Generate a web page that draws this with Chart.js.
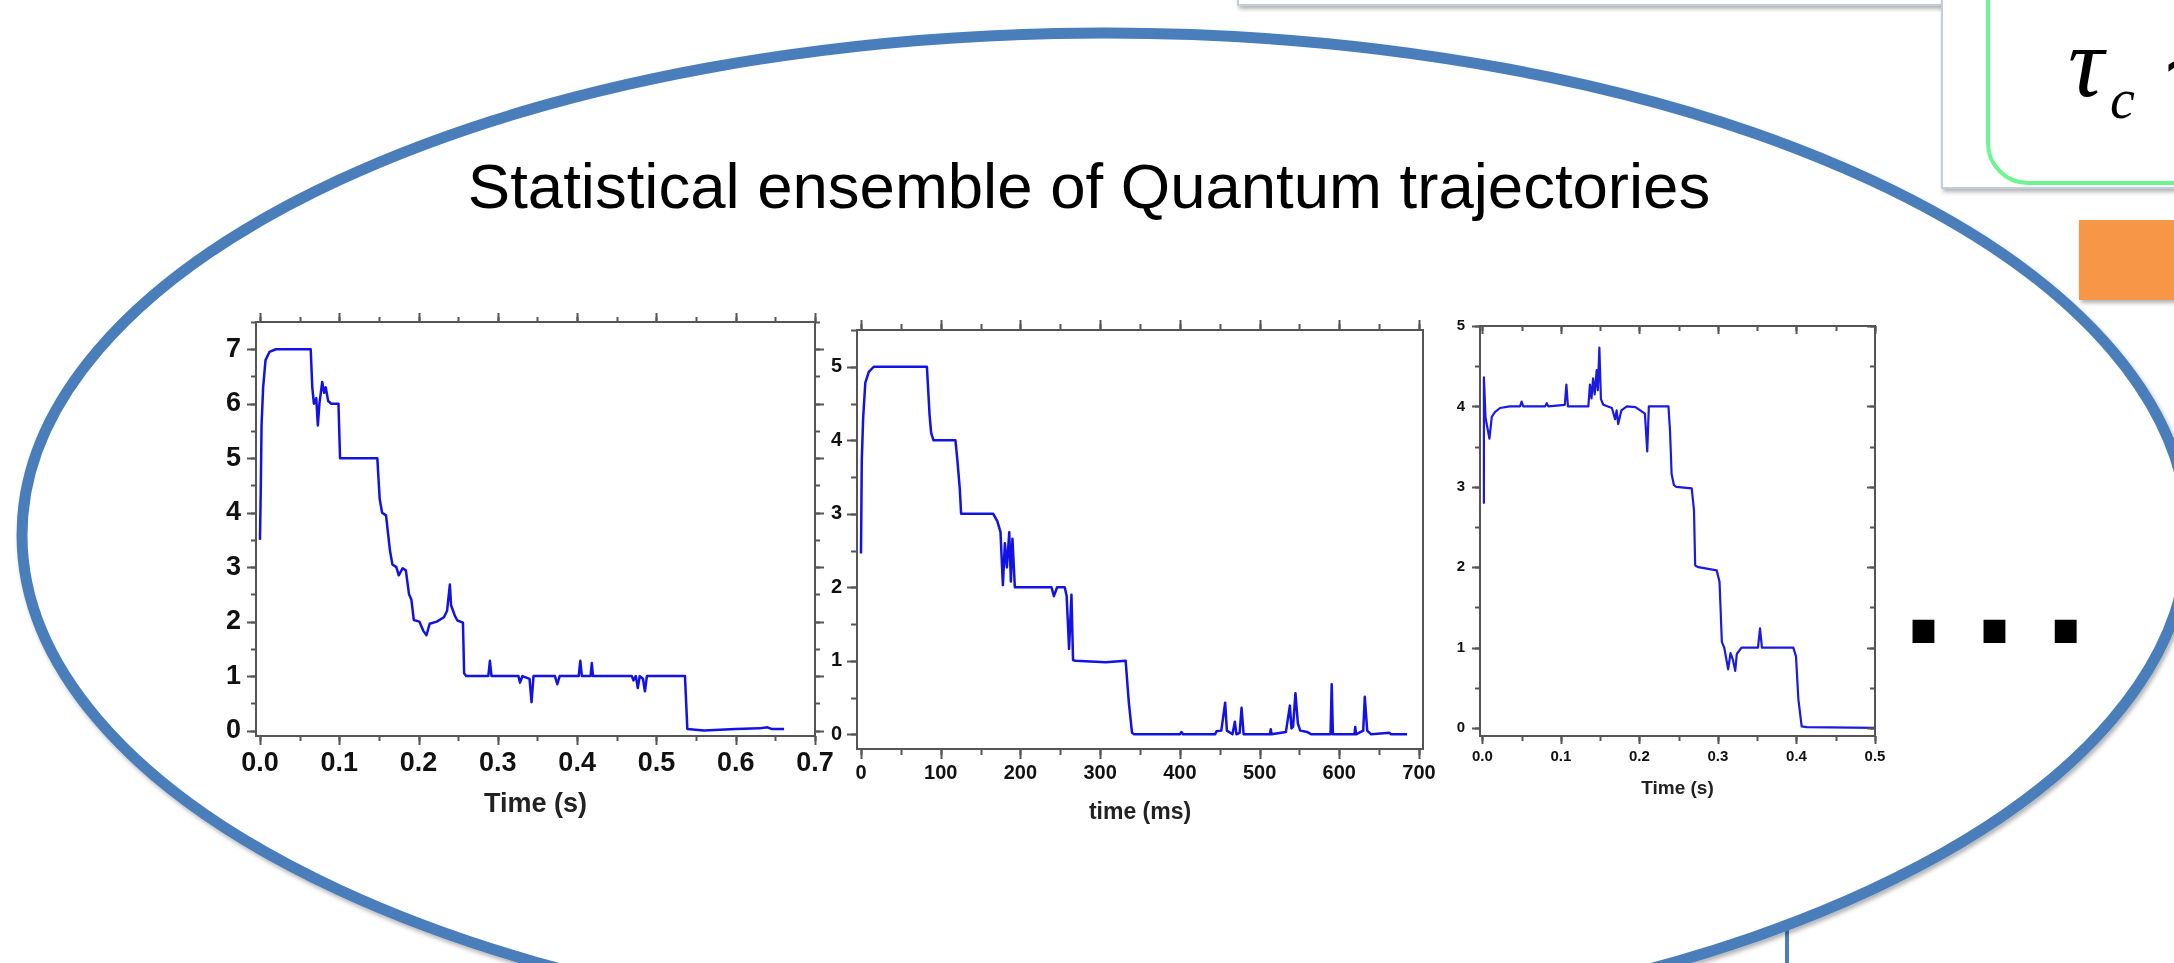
<!DOCTYPE html>
<html><head><meta charset="utf-8">
<script src="https://cdn.jsdelivr.net/npm/chart.js@4.4.0/dist/chart.umd.min.js"></script>
<style>
html,body{margin:0;padding:0;background:#fff;}
#stage{position:relative;width:2174px;height:963px;overflow:hidden;background:#fff;}
#deco{position:absolute;left:0;top:0;}
canvas{position:absolute;}
</style></head><body>
<div id="stage">
<svg id="deco" width="2174" height="963" xmlns="http://www.w3.org/2000/svg">
 <defs>
  <filter id="sh" x="-10%" y="-10%" width="120%" height="130%"><feDropShadow dx="2" dy="3" stdDeviation="2" flood-color="#000" flood-opacity="0.3"/></filter>
 </defs>
 <rect x="1238" y="-30" width="704" height="35" fill="#fff" stroke="#c3cedd" stroke-width="2" filter="url(#sh)"/>
 <rect x="1942" y="-30" width="300" height="218" fill="#fff" stroke="#c3cedd" stroke-width="2" filter="url(#sh)"/>
 <rect x="1988" y="-60" width="300" height="243" rx="40" fill="#fff" stroke="#6df591" stroke-width="4"/>
 <text x="2068" y="96" font-family="Liberation Serif, Times New Roman, serif" font-style="italic" font-size="100" fill="#000">τ</text>
 <text x="2110" y="118" font-family="Liberation Serif, Times New Roman, serif" font-style="italic" font-size="56" fill="#000">c</text>
 <text x="2160" y="90" font-family="Liberation Serif, Times New Roman, serif" font-size="80" fill="#000">∼</text>
 <rect x="2079" y="220" width="130" height="80" fill="#f79646" filter="url(#sh)"/>
 <line x1="1787" y1="880" x2="1787" y2="970" stroke="#4a7ebb" stroke-width="4"/>
 <ellipse cx="1105" cy="535" rx="1083" ry="502" fill="#fff" stroke="#4a7ebb" stroke-width="11" filter="url(#sh)"/>
 <text x="1089" y="208" text-anchor="middle" font-family="Liberation Sans, Arial, sans-serif" font-size="63.5" fill="#000">Statistical ensemble of Quantum trajectories</text>
 <text x="1902" y="643" font-family="Liberation Sans, Arial, sans-serif" font-weight="bold" font-size="155" letter-spacing="28" fill="#000">...</text>
</svg>
<canvas id="c1" width="680" height="541" style="left:170px;top:280px;width:680px;height:541px"></canvas>
<canvas id="c2" width="670" height="536" style="left:780px;top:290px;width:670px;height:536px"></canvas>
<canvas id="c3" width="480" height="510" style="left:1420px;top:290px;width:480px;height:510px"></canvas>
</div>
<script>
// ---------- Data: trajectory 1 (time in s, photon number) ----------
const t1 = [0.000,0.001,0.002,0.004,0.007,0.012,0.020,0.040,0.064,0.066,0.068,0.071,0.073,0.075,0.0785,0.081,0.083,0.086,0.090,0.099,
0.101,0.148,0.151,0.154,0.159,0.164,0.167,0.172,0.175,0.180,0.184,0.188,0.191,0.194,0.201,0.206,0.210,0.214,0.223,0.232,
0.236,0.2395,0.241,0.246,0.249,0.256,0.2575,0.260,0.288,0.290,0.292,0.326,0.328,0.331,0.340,0.3425,0.345,0.372,0.375,0.378,
0.402,0.404,0.406,0.417,0.4185,0.420,0.469,0.471,0.474,0.4765,0.479,0.483,0.4855,0.488,0.536,0.539,0.560,0.600,0.630,0.640,
0.645,0.661];
const n1 = [3.5,4.4,5.6,6.3,6.8,6.95,7.0,7.0,7.0,6.3,6.0,6.1,5.6,6.0,6.4,6.2,6.3,6.05,6.0,6.0,
5.0,5.0,4.25,4.0,3.95,3.3,3.05,3.0,2.85,2.98,2.94,2.5,2.4,2.03,2.0,1.83,1.75,1.96,2.0,2.08,
2.2,2.68,2.3,2.1,2.02,1.98,1.05,1.0,1.0,1.28,1.0,1.0,0.88,1.0,0.95,0.52,1.0,1.0,0.85,1.0,
1.0,1.28,1.0,1.0,1.24,1.0,1.0,0.92,1.0,0.78,1.0,0.95,0.72,1.0,1.0,0.03,0.0,0.03,0.04,0.06,
0.03,0.03];
// ---------- Data: trajectory 2 (time in ms) ----------
const t2 = [0,1,2.7,5.4,9.8,16,82.7,86,88,91,118.5,121,124,125.6,165.9,171,175,178,180.5,183,
186,188,190,193,239,242,246,255.6,258,261,264,266,269,307,332,336,340,342.6,400,402,
404,444,446,452,456.8,459,466,469,471,475,477.4,480,513,514,515,533,538,540,542,545,
548,551,560,565,589,590.5,592,619,620,621,630,632,635,640,663,665,685];
const n2 = [2.46,3.72,4.3,4.78,4.93,5.0,5.0,4.35,4.1,4.0,4.0,3.72,3.33,3.0,3.0,2.9,2.75,2.03,2.6,2.27,
2.75,2.08,2.66,2.0,2.0,1.88,2.0,2.0,1.88,1.16,1.9,1.01,1.0,0.98,1.0,0.43,0.02,0.0,0.0,0.03,
0.0,0.0,0.04,0.05,0.43,0.05,0.0,0.17,0.0,0.02,0.36,0.0,0.0,0.07,0.0,0.03,0.39,0.08,0.1,0.56,
0.15,0.05,0.03,0.0,0.0,0.68,0.0,0.0,0.1,0.0,0.05,0.51,0.05,0.0,0.02,0.0,0.0];
// ---------- Data: trajectory 3 (time in s) ----------
const t3 = [0.001,0.002,0.004,0.0055,0.009,0.012,0.016,0.0225,0.035,0.048,0.050,0.052,0.080,0.082,0.084,0.105,0.107,0.109,0.135,0.137,
0.139,0.141,0.143,0.1456,0.147,0.149,0.151,0.154,0.165,0.169,0.171,0.173,0.177,0.184,0.195,0.207,0.210,0.212,0.237,0.239,
0.241,0.244,0.247,0.2666,0.2695,0.271,0.275,0.2984,0.302,0.305,0.308,0.313,0.316,0.319,0.322,0.324,0.330,0.351,0.3536,0.356,
0.396,0.3994,0.4024,0.4066,0.413,0.500];
const n3 = [2.8,4.36,3.87,3.78,3.6,3.87,3.93,3.98,4.0,4.0,4.06,4.0,4.0,4.04,4.0,4.02,4.27,4.0,4.0,4.27,
4.1,4.35,4.15,4.45,4.2,4.73,4.09,4.02,3.98,3.84,3.95,3.78,3.95,4.0,3.99,3.91,3.44,4.0,4.0,3.69,
3.16,3.02,3.0,2.98,2.71,2.02,2.0,1.96,1.82,1.07,1.0,0.73,0.93,0.85,0.71,0.92,1.0,1.0,1.24,1.0,
1.0,0.89,0.36,0.02,0.01,0.0];
// ---------- Tick labels ----------
const xTicks1 = [0,0.1,0.2,0.3,0.4,0.5,0.6,0.7];
const xLabels1 = ['0.0','0.1','0.2','0.3','0.4','0.5','0.6','0.7'];
const yTicks1 = [0,1,2,3,4,5,6,7];
const xTicks2 = [0,100,200,300,400,500,600,700];
const xLabels2 = ['0','100','200','300','400','500','600','700'];
const yTicks2 = [0,1,2,3,4,5];
const xTicks3 = [0,0.1,0.2,0.3,0.4,0.5];
const xLabels3 = ['0.0','0.1','0.2','0.3','0.4','0.5'];
const yTicks3 = [0,1,2,3,4,5];
const titles = ['Time (s)','time (ms)','Time (s)'];

const FONT = 'Liberation Sans, Arial, sans-serif';

const frameTicks = {
  id: 'frameTicks',
  afterDraw(chart, args, opts) {
    const ctx = chart.ctx, ca = chart.chartArea;
    ctx.save();
    ctx.strokeStyle = opts.color; ctx.lineWidth = opts.width; ctx.lineCap = 'butt';
    for (const sp of opts.specs) {
      const s = chart.scales[sp.id];
      const sign = sp.dir === 'in' ? -1 : 1;
      for (const [step, len] of [[sp.minor, opts.minorLen], [sp.major, opts.majorLen]]) {
        if (!step) continue;
        for (let k = Math.ceil(s.min / step - 1e-6); k * step <= s.max + 1e-9; k++) {
          const p = Math.round(s.getPixelForValue(k * step)) + 0.5;
          ctx.beginPath();
          if (sp.edge === 'bottom') { ctx.moveTo(p, ca.bottom); ctx.lineTo(p, ca.bottom + sign * len); }
          else if (sp.edge === 'top') { ctx.moveTo(p, ca.top); ctx.lineTo(p, ca.top - sign * len); }
          else if (sp.edge === 'left') { ctx.moveTo(ca.left, p); ctx.lineTo(ca.left - sign * len, p); }
          else { ctx.moveTo(ca.right, p); ctx.lineTo(ca.right + sign * len, p); }
          ctx.stroke();
        }
      }
    }
    ctx.restore();
  }
};

function makeChart(id, cfg) {
  const border = {display: true, color: '#555', width: cfg.frameW};
  const grid = {display: false, drawTicks: false, drawOnChartArea: false};
  const tickFont = {family: FONT, size: cfg.tickSize, weight: 'bold'};
  new Chart(document.getElementById(id), {
    type: 'line',
    data: { datasets: [{
      data: cfg.t.map((v, i) => ({x: v, y: cfg.n[i]})),
      borderColor: cfg.color, borderWidth: cfg.lineW, pointRadius: 0, tension: 0,
      borderJoinStyle: 'round', xAxisID: 'x', yAxisID: 'y'
    }]},
    options: {
      responsive: false, maintainAspectRatio: false, animation: false, devicePixelRatio: 1,
      layout: {padding: 0},
      plugins: {legend: {display: false}, tooltip: {enabled: false},
        frameTicks: {color: '#555', width: cfg.frameW, majorLen: cfg.majorLen, minorLen: cfg.minorLen, specs: cfg.specs}},
      scales: {
        x: {type: 'linear', position: 'bottom', min: cfg.xmin, max: cfg.xmax, grid, border,
          afterBuildTicks: s => { s.ticks = cfg.xTicks.map(v => ({value: v})); },
          afterFit: s => { s.height = cfg.box.b; },
          ticks: {color: '#111', font: tickFont, padding: cfg.xPad, maxRotation: 0, autoSkip: false,
            callback: (v, i) => cfg.xLabels[i]},
          title: {display: true, text: cfg.title, color: '#222', padding: {top: 0, bottom: 0},
            font: {family: FONT, size: cfg.titleSize, weight: 'bold', lineHeight: 1.2}}},
        xt: {type: 'linear', position: 'top', min: cfg.xmin, max: cfg.xmax, grid, border,
          ticks: {display: false}, afterFit: s => { s.height = cfg.box.t; }},
        y: {type: 'linear', position: 'left', min: cfg.ymin, max: cfg.ymax, grid, border,
          afterBuildTicks: s => { s.ticks = cfg.yTicks.map(v => ({value: v})); },
          afterFit: s => { s.width = cfg.box.l; },
          ticks: {color: '#111', font: tickFont, padding: cfg.yPad, autoSkip: false, callback: v => String(v)}},
        yr: {type: 'linear', position: 'right', min: cfg.ymin, max: cfg.ymax, grid, border,
          ticks: {display: false}, afterFit: s => { s.width = cfg.box.r; }}
      }
    },
    plugins: [frameTicks]
  });
}

makeChart('c1', {t: t1, n: n1, color: '#1212e6', lineW: 2.5, xmin: -0.005, xmax: 0.7, ymin: -0.1, ymax: 7.5,
  xTicks: xTicks1, xLabels: xLabels1, yTicks: yTicks1, title: titles[0],
  tickSize: 27, titleSize: 27, xPad: 11, yPad: 15, frameW: 2, majorLen: 9, minorLen: 5,
  box: {l: 86, r: 35, t: 42, b: 85},
  specs: [{id: 'x', edge: 'bottom', major: 0.1, minor: 0.05, dir: 'out'},
          {id: 'xt', edge: 'top', major: 0.1, minor: 0.05, dir: 'out'},
          {id: 'y', edge: 'left', major: 1, minor: 0.5, dir: 'out'},
          {id: 'yr', edge: 'right', major: 1, minor: 0.5, dir: 'out'}]});

makeChart('c2', {t: t2, n: n2, color: '#1212e6', lineW: 2.5, xmin: -5, xmax: 705, ymin: -0.2, ymax: 5.5,
  xTicks: xTicks2, xLabels: xLabels2, yTicks: yTicks2, title: titles[1],
  tickSize: 20, titleSize: 23, xPad: 12, yPad: 15, frameW: 2, majorLen: 10, minorLen: 6,
  box: {l: 77, r: 27, t: 40, b: 77},
  specs: [{id: 'x', edge: 'bottom', major: 100, minor: 50, dir: 'out'},
          {id: 'xt', edge: 'top', major: 100, minor: 50, dir: 'out'},
          {id: 'y', edge: 'left', major: 1, minor: 0.5, dir: 'out'}]});

makeChart('c3', {t: t3, n: n3, color: '#1a1ae0', lineW: 2.2, xmin: -0.003, xmax: 0.5, ymin: -0.1, ymax: 5,
  xTicks: xTicks3, xLabels: xLabels3, yTicks: yTicks3, title: titles[2],
  tickSize: 15, titleSize: 19, xPad: 12, yPad: 15, frameW: 2, majorLen: 8, minorLen: 5,
  box: {l: 60, r: 25, t: 36, b: 64},
  specs: [{id: 'x', edge: 'bottom', major: 0.1, minor: 0.05, dir: 'out'},
          {id: 'xt', edge: 'top', major: 0.1, minor: 0.05, dir: 'in'},
          {id: 'y', edge: 'left', major: 1, minor: 0.5, dir: 'out'},
          {id: 'yr', edge: 'right', major: 1, minor: 0.5, dir: 'in'}]});
</script>
</body></html>
